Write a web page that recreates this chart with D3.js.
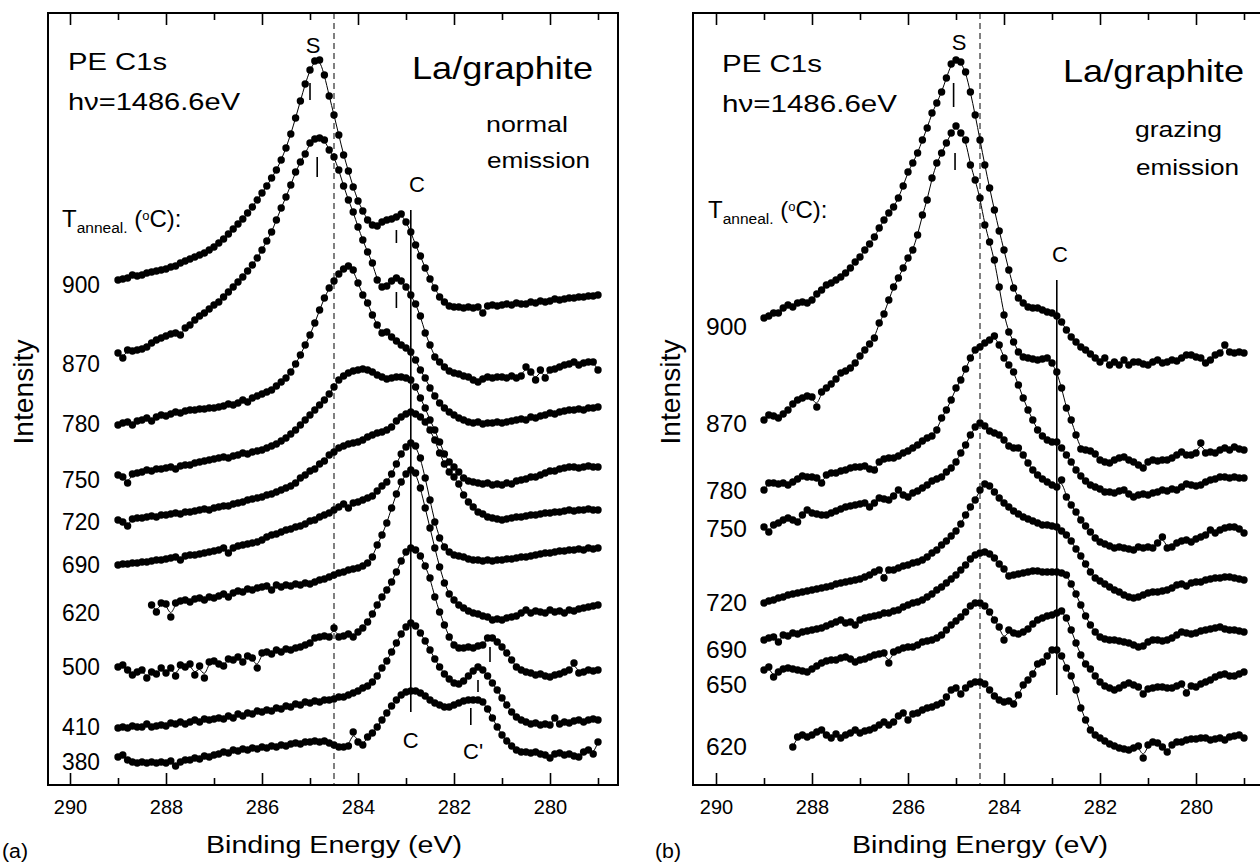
<!DOCTYPE html>
<html>
<head>
<meta charset="utf-8">
<title>La/graphite C1s</title>
<script src="https://cdn.jsdelivr.net/npm/d3@7"></script>
<style>
  body { margin: 0; background: #fff; }
  text { font-family: "Liberation Sans", Arial, Helvetica, sans-serif; fill: #000; }
</style>
</head>
<body>
<script>
// C1s spectra, 0.1 eV per point, counts in arbitrary units
var stepE = 0.1;

// (a) normal emission
var tempsA = ["900", "870", "780", "750", "720", "690", "620", "500", "410", "380"];
var startA = [289.0, 289.0, 289.0, 289.0, 289.0, 289.0, 288.3, 289.0, 289.0, 289.0];
var a900 = [720,721,722,725,724,725,727,728,729,730,731,733,734,737,739,741,743,745,747,750,753,757,761,766,771,776,781,787,793,800,807,814,822,830,840,852,866,882,899,916,930,939,940,925,904,885,865,845,829,813,799,789,780,775,774,778,780,781,783,786,778,768,755,744,732,721,712,703,698,694,693,693,692,693,692,693,687,694,695,694,695,696,695,697,696,696,698,697,699,698,699,701,700,701,702,702,703,703,704,704,705];
var a870 = [647,642,650,649,650,651,653,657,660,662,664,666,667,665,672,675,680,684,687,691,695,698,703,708,713,718,723,729,735,742,750,759,768,780,792,803,815,828,838,846,857,861,862,860,850,843,830,814,800,788,773,760,748,737,720,713,714,719,722,719,713,705,696,684,667,655,643,638,633,629,627,626,624,623,620,618,621,623,622,623,623,622,624,622,624,633,628,620,630,622,630,631,633,635,636,638,635,637,638,638,630];
var a780 = [575,577,578,575,579,580,582,579,583,585,584,586,588,587,589,590,590,591,591,592,592,593,594,596,595,597,600,598,602,604,606,608,610,614,618,622,628,636,645,655,665,677,690,702,712,719,726,731,734,730,717,705,697,685,675,667,668,663,659,655,652,648,640,630,622,612,604,597,592,588,585,582,580,578,577,578,576,577,577,578,577,578,579,580,581,580,583,582,584,585,587,586,588,589,590,590,591,590,592,592,593];
var a750 = [525,523,517,526,527,528,530,529,531,531,532,533,531,534,535,535,537,538,539,540,541,542,543,542,544,545,547,546,548,549,550,552,554,556,559,562,566,570,575,580,585,590,595,600,606,613,620,624,627,629,630,631,630,628,625,623,621,622,623,623,622,620,613,602,592,580,570,558,546,538,533,528,522,519,518,517,516,517,515,516,515,517,516,519,520,521,523,523,525,527,529,529,531,532,533,533,532,533,534,533,533];
var a720 = [480,478,474,481,482,482,483,484,483,485,485,486,487,486,488,488,489,490,491,490,492,493,494,494,496,497,498,500,501,502,503,505,506,508,510,512,514,517,522,525,529,531,536,539,545,548,552,554,556,557,558,560,563,565,567,568,570,573,579,583,586,588,586,583,578,570,560,547,536,528,523,516,505,498,493,488,486,483,482,481,480,481,482,483,483,484,485,485,486,487,487,488,488,489,490,489,490,490,491,490,490];
var a690 = [435,436,436,437,437,438,438,439,440,440,441,442,443,440,444,445,445,446,447,448,449,450,452,447,452,454,455,456,457,458,460,463,465,466,468,470,471,473,474,476,479,480,483,485,487,490,493,496,492,497,498,500,502,504,509,514,518,526,536,546,553,557,554,542,522,500,478,462,453,448,445,444,443,441,440,440,439,440,439,440,440,441,441,442,443,443,444,445,446,447,447,448,449,449,450,450,451,450,452,451,452];
var a620 = [395,388,397,396,383,397,399,400,398,401,402,400,403,402,404,406,403,407,409,408,411,410,412,413,414,410,415,413,415,414,416,415,417,416,418,420,421,423,425,427,428,430,431,432,434,437,443,455,465,477,492,506,518,526,530,527,512,492,472,452,433,417,406,400,395,392,389,387,386,384,383,380,381,380,382,383,384,387,390,387,389,388,387,390,388,389,387,390,389,391,392,393,394,395];
var a500 = [333,335,330,325,328,330,322,328,326,332,327,332,324,335,333,336,325,334,322,338,339,336,334,341,340,343,338,344,342,332,347,348,346,350,348,351,350,352,353,355,357,362,363,364,363,372,363,364,366,363,368,372,378,386,395,403,410,418,428,439,448,452,450,444,434,422,403,388,375,363,355,352,352,353,352,354,355,362,362,358,353,347,340,333,330,328,327,325,326,324,323,325,326,328,330,337,327,328,330,329,330];
var a410 = [272,273,272,274,273,273,276,273,274,275,274,277,276,278,276,278,280,278,281,280,281,282,281,284,282,286,284,287,286,289,288,290,289,292,291,294,293,296,295,298,297,299,298,300,300,301,303,303,305,307,309,312,314,318,324,332,339,348,357,366,373,377,374,367,359,350,341,333,326,321,317,316,319,324,329,333,330,324,317,310,302,295,288,283,280,278,276,277,275,276,275,282,276,278,277,279,280,278,280,281,280];
var a380 = [243,245,240,238,237,238,237,238,237,238,237,239,234,238,240,240,242,241,244,243,245,246,248,247,250,249,251,250,252,251,253,252,254,253,255,254,256,257,256,258,258,259,258,259,257,255,253,253,254,268,258,255,263,267,273,280,287,294,300,305,308,309,309,307,304,300,297,295,293,293,295,297,299,300,300,300,298,291,282,273,265,259,254,250,248,248,247,248,246,245,242,246,247,245,246,244,243,248,250,246,258];

// (b) grazing emission
var tempsB = ["900", "870", "780", "750", "720", "690", "650", "620"];
var startB = [289.0, 289.0, 289.0, 289.0, 289.0, 289.0, 289.0, 288.4];
var b900 = [682,684,687,687,692,695,693,697,698,697,700,706,710,715,717,720,723,727,732,738,743,750,756,763,772,780,787,793,802,814,828,837,847,860,872,887,897,908,922,936,940,938,928,908,885,860,835,812,790,769,750,730,712,702,697,693,692,692,690,688,687,684,678,670,663,658,653,650,646,642,638,642,635,638,635,640,635,638,638,636,635,638,640,637,638,640,639,642,645,645,643,642,637,640,645,647,655,648,647,648,647];
var b870 = [580,585,584,582,586,590,596,600,602,604,603,593,608,612,616,621,627,629,632,637,644,650,656,662,677,686,700,713,722,732,742,750,765,785,800,822,837,847,857,867,874,867,860,835,820,802,775,758,740,713,685,668,658,648,643,642,641,640,641,642,637,628,612,592,580,565,551,550,549,546,540,538,537,540,542,543,540,538,535,532,538,540,539,540,540,542,545,548,545,545,547,557,547,548,547,550,552,550,553,551,550];
var b780 = [510,517,517,516,517,515,518,521,524,523,523,522,517,525,527,527,529,530,532,533,533,534,531,530,538,541,542,542,544,547,549,552,555,559,562,564,570,582,590,600,612,620,631,642,650,653,657,660,664,655,642,635,628,615,602,590,580,570,564,560,558,558,552,545,538,530,524,519,515,513,511,508,508,507,509,510,506,503,505,506,505,507,508,510,509,511,510,513,516,515,514,515,518,520,521,523,523,522,523,522,522];
var b750 = [473,468,475,477,480,482,480,478,485,490,487,486,485,485,487,489,491,493,494,495,496,497,493,497,502,501,500,504,510,505,503,507,509,512,515,519,521,523,528,532,538,547,555,565,573,577,574,569,567,565,560,554,552,552,545,537,530,525,521,518,515,513,520,503,495,488,480,474,468,462,458,456,454,452,453,452,451,450,453,452,453,452,457,463,452,453,457,459,460,458,461,463,465,470,467,470,472,473,473,471,467];
var b720 = [397,399,400,402,403,405,406,407,408,409,410,411,412,413,414,416,417,418,419,420,421,423,425,428,430,422,430,430,432,434,435,437,438,440,443,447,450,455,459,464,469,476,485,493,500,510,516,514,508,502,497,493,489,486,483,481,479,477,475,475,474,473,469,465,459,451,444,436,428,422,419,416,413,410,408,405,403,402,403,405,407,408,408,409,410,412,415,416,414,417,418,418,420,421,422,422,423,423,422,421,420];
var b690 = [360,362,363,358,365,364,367,366,368,369,370,371,372,374,376,378,380,377,378,375,380,382,383,384,385,387,387,389,390,393,395,397,398,400,403,406,410,413,417,421,425,430,435,441,445,447,448,446,442,436,431,424,425,426,427,428,429,429,428,428,428,428,427,425,416,406,395,384,375,368,363,361,360,360,359,358,357,355,353,354,358,360,360,359,360,362,365,368,367,366,367,369,370,371,372,373,371,370,370,369,368];
var b650 = [330,333,323,328,331,332,331,330,329,328,331,334,337,339,340,340,342,343,341,338,340,341,343,345,346,347,337,348,350,352,353,353,355,358,359,360,362,365,370,375,379,383,388,394,397,397,394,388,380,373,360,370,367,366,368,371,376,380,382,384,385,387,389,382,370,357,345,336,331,324,318,314,312,310,312,315,317,315,313,306,311,312,313,313,312,312,314,316,307,314,313,316,318,320,323,325,326,324,324,326,328];
var b620 = [253,263,265,263,265,268,270,265,262,266,262,265,267,270,267,269,270,272,275,278,275,278,284,287,280,286,287,290,292,293,295,297,303,310,312,306,312,316,318,318,316,310,304,300,298,299,296,305,315,320,326,336,338,344,350,350,344,332,324,310,292,280,270,265,262,259,256,254,252,251,250,252,254,242,255,258,257,253,248,255,258,258,260,261,261,262,262,260,261,262,260,263,264,265,262];

// reference energies (eV) and marker ticks [energy, top, bottom] in counts
var surfaceE = 284.5;
var carbideE = 282.9;
var carbideLineA = [790, 288];
var carbideLineB = [720, 305];
var marksA = [[285.0, 917, 900], [284.85, 843, 823], [283.2, 770, 757], [283.2, 708, 692],
              [281.25, 353, 338], [281.5, 320, 308], [281.65, 292, 275]];
var marksB = [[285.05, 917, 893], [285.02, 847, 830]];
var tickMajor = [290, 288, 286, 284, 282, 280];
var tickMinor = [289, 287, 285, 283, 281, 279];

window.onload = function() {
  var W = 1260, H = 865;
  var svg = d3.select("body").append("svg").attr("width", W).attr("height", H);

  var top = 13, bottom = 785;
  var y = d3.scaleLinear().domain([215, 987]).range([bottom, top]);

  function txt(g, x, yy, s, size, width, anchor) {
    var t = g.append("text").attr("x", x).attr("y", yy).attr("font-size", size).text(s);
    if (anchor) t.attr("text-anchor", anchor);
    if (width) t.attr("textLength", width).attr("lengthAdjust", "spacingAndGlyphs");
    return t;
  }

  function anneal(g, x, yy) {
    var t = g.append("text").attr("x", x).attr("y", yy).attr("font-size", 24);
    t.append("tspan").text("T");
    t.append("tspan").attr("font-size", 15.5).attr("dy", 6).text("anneal.");
    t.append("tspan").attr("dy", -6).text(" (");
    t.append("tspan").attr("font-size", 13).attr("dy", -7).text("o");
    t.append("tspan").attr("dy", 7).text("C):");
  }

  function panel(p) {
    var g = svg.append("g");
    var x = d3.scaleLinear().domain([290, 279]).range(p.range);

    // frame
    g.append("rect").attr("x", p.frame[0]).attr("y", top)
      .attr("width", p.frame[1] - p.frame[0]).attr("height", bottom - top)
      .attr("fill", "none").attr("stroke", "#000").attr("stroke-width", 2);

    // inward ticks, long on even values
    var axB = g.append("g").attr("transform", "translate(0," + bottom + ")")
      .call(d3.axisBottom(x).tickValues(tickMajor).tickSizeInner(-12).tickSizeOuter(0)
        .tickPadding(14.5).tickFormat(d3.format("d")));
    g.append("g").attr("transform", "translate(0," + bottom + ")")
      .call(d3.axisBottom(x).tickValues(tickMinor).tickSizeInner(-7).tickSizeOuter(0).tickFormat(""));
    g.append("g").attr("transform", "translate(0," + top + ")")
      .call(d3.axisTop(x).tickValues(tickMajor).tickSizeInner(-12).tickSizeOuter(0).tickFormat(""));
    g.append("g").attr("transform", "translate(0," + top + ")")
      .call(d3.axisTop(x).tickValues(tickMinor).tickSizeInner(-7).tickSizeOuter(0).tickFormat(""));
    g.selectAll(".domain").remove();
    g.selectAll(".tick line").attr("stroke-width", 1.6);
    axB.selectAll("text").attr("font-size", 20)
      .attr("font-family", "'Liberation Sans', Arial, sans-serif");

    // reference lines
    g.append("line").attr("x1", x(surfaceE)).attr("x2", x(surfaceE))
      .attr("y1", top).attr("y2", bottom)
      .attr("stroke", "#000").attr("stroke-width", 1).attr("stroke-dasharray", "6,4");
    g.append("line").attr("x1", x(carbideE)).attr("x2", x(carbideE))
      .attr("y1", y(p.cline[0])).attr("y2", y(p.cline[1]))
      .attr("stroke", "#000").attr("stroke-width", 1.6);
    p.marks.forEach(function(m) {
      g.append("line").attr("x1", x(m[0])).attr("x2", x(m[0]))
        .attr("y1", y(m[1])).attr("y2", y(m[2]))
        .attr("stroke", "#000").attr("stroke-width", 1.6);
    });

    // spectra: fitted line + data points
    var line = d3.line().x(function(d) { return x(d[0]); })
      .y(function(d) { return y(d[1]); }).curve(d3.curveBasis);
    p.specs.forEach(function(vals, k) {
      var pts = vals.map(function(v, i) { return [p.starts[k] - i * stepE, v]; });
      g.append("path").datum(pts).attr("d", line)
        .attr("fill", "none").attr("stroke", "#000").attr("stroke-width", 1);
      g.append("g").selectAll("circle").data(pts).join("circle")
        .attr("cx", function(d) { return x(d[0]); })
        .attr("cy", function(d) { return y(d[1]); })
        .attr("r", 3.7).attr("fill", "#000");
      txt(g, p.labelX, p.labelY[k], p.temps[k], 23, p.labelW);
    });

    // texts
    txt(g, p.textX, p.peY, "PE C1s", 24, p.peW);
    txt(g, p.textX, p.peY + 40, "h\u03bd=1486.6eV", 24, p.hvW);
    anneal(g, p.annX, p.annY);
    txt(g, p.laX, p.laY, "La/graphite", 32, 181);
    txt(g, p.emX, p.emY, p.emission, 22, p.emW);
    txt(g, p.emX + 1, p.emY + p.emGap, "emission", 22, 103);
    txt(g, x(285.0) + 3, p.sY, "S", 22, null, "middle");
    txt(g, p.cX, p.cY, "C", 22, null, "middle");
    txt(g, (p.range[0] + p.range[1]) / 2, 853, "Binding Energy (eV)", 23, 256, "middle");
    txt(g, p.panelX, 858, p.panelName, 20, 26);
    g.append("text").attr("transform", "translate(" + p.intX + ",392) rotate(-90)")
      .attr("font-size", 28).attr("text-anchor", "middle")
      .attr("textLength", 105).attr("lengthAdjust", "spacingAndGlyphs").text("Intensity");
    return { g: g, x: x };
  }

  var pa = panel({
    frame: [48, 618], range: [70, 598],
    specs: [a900, a870, a780, a750, a720, a690, a620, a500, a410, a380],
    starts: startA, temps: tempsA,
    labelX: 62, labelW: 38,
    labelY: [293, 372, 432, 488, 530, 573, 621, 675, 735, 770],
    cline: carbideLineA, marks: marksA,
    textX: 68, peY: 70, peW: 99, hvW: 172,
    annX: 62, annY: 227,
    laX: 412, laY: 79,
    emission: "normal", emX: 486, emY: 132, emW: 82, emGap: 36,
    sY: 53, cX: 417, cY: 192,
    panelX: 2, panelName: "(a)", intX: 33
  });
  txt(pa.g, pa.x(282.9), 748, "C", 22, null, "middle");
  txt(pa.g, 463, 759, "C'", 22);

  panel({
    frame: [693, 1266], range: [716, 1244],
    specs: [b900, b870, b780, b750, b720, b690, b650, b620],
    starts: startB, temps: tempsB,
    labelX: 706, labelW: 41,
    labelY: [335, 432, 499, 537, 611, 658, 693, 755],
    cline: carbideLineB, marks: marksB,
    textX: 722, peY: 72, peW: 100, hvW: 175,
    annX: 708, annY: 218,
    laX: 1063, laY: 82,
    emission: "grazing", emX: 1135, emY: 137, emW: 87, emGap: 38,
    sY: 50, cX: 1060, cY: 262,
    panelX: 655, panelName: "(b)", intX: 680
  });
};
</script>
</body>
</html>
